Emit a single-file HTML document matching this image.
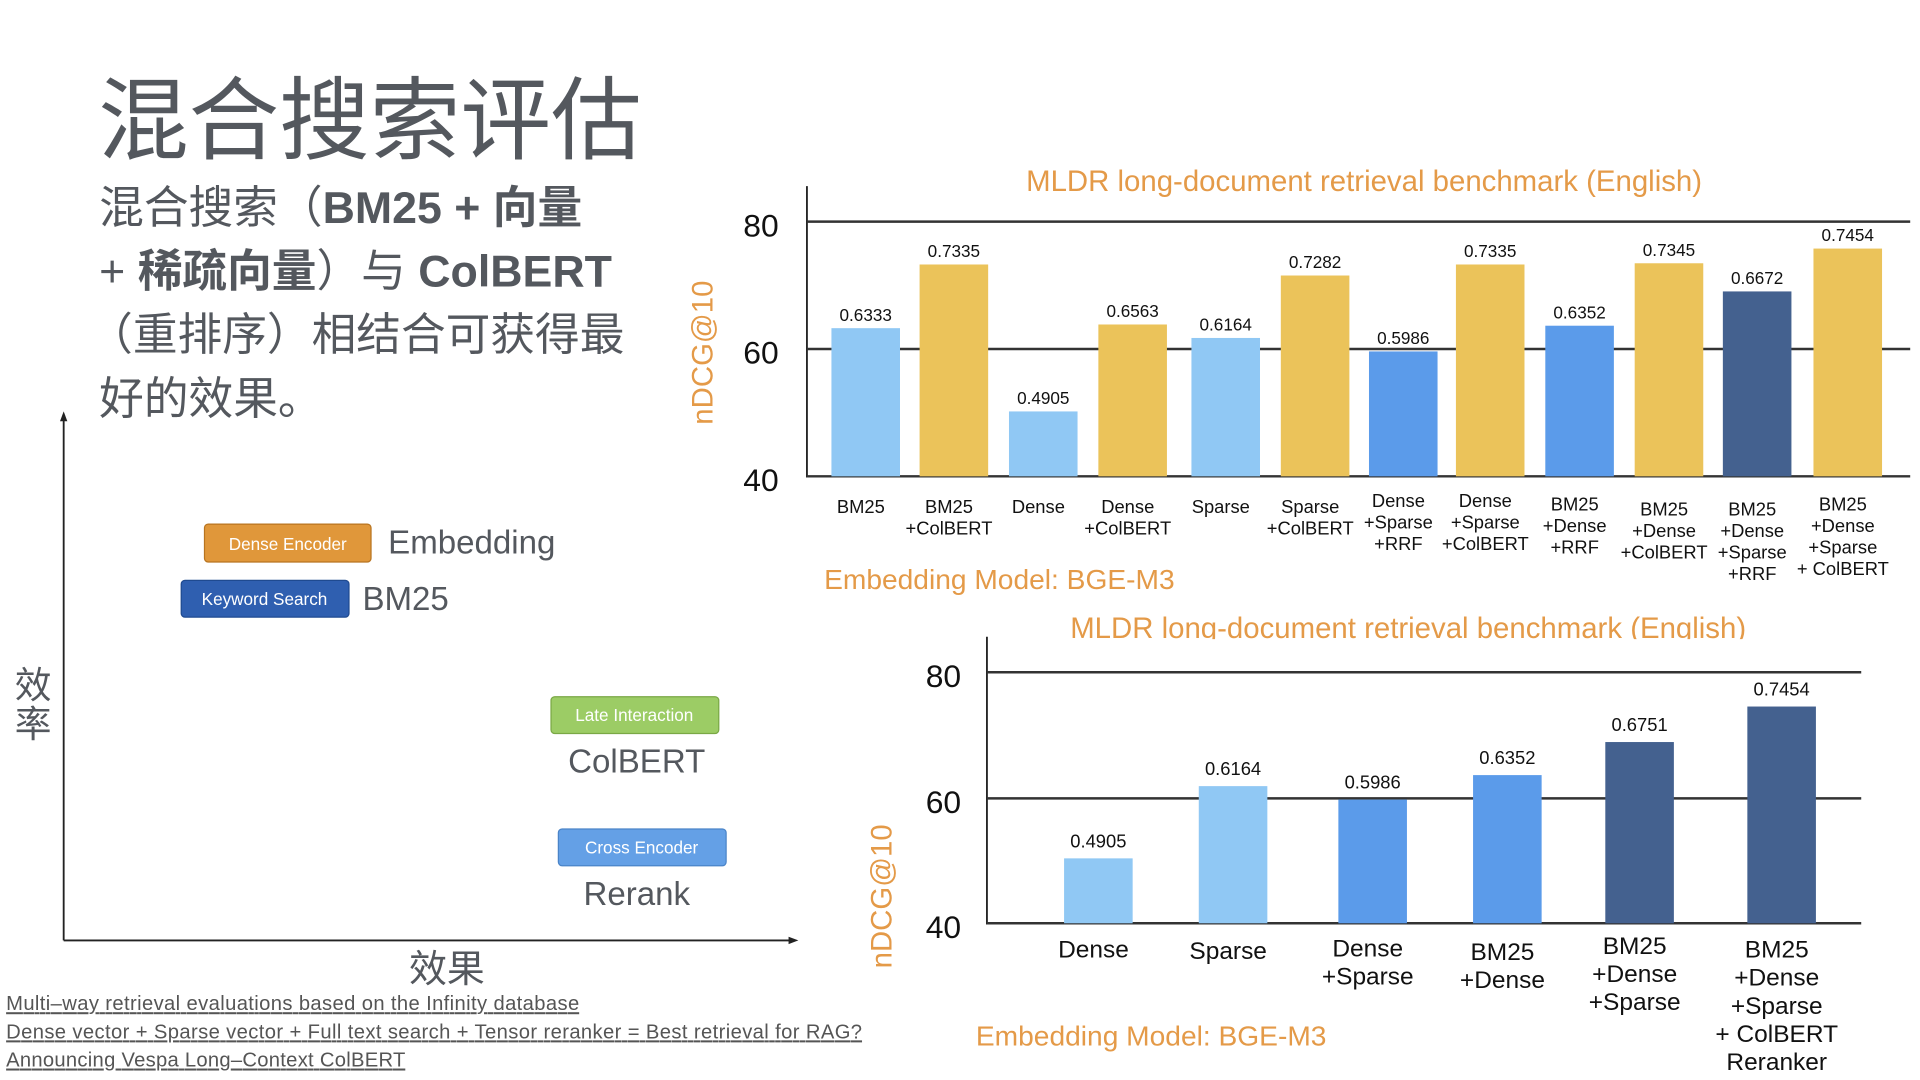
<!DOCTYPE html>
<html><head><meta charset="utf-8"><style>
html,body{margin:0;padding:0;background:#fff;width:1920px;height:1080px;overflow:hidden}
svg{display:block}
.cjk{font-family:"Liberation Sans","Noto Sans CJK SC",sans-serif}
.n{font-family:"Liberation Sans Narrow","Liberation Sans",sans-serif}
</style></head><body>
<svg width="1920" height="1080" viewBox="0 0 1568 882" preserveAspectRatio="none" xmlns="http://www.w3.org/2000/svg">
<defs><clipPath id="c2"><rect x="700" y="480" width="860" height="42"/></clipPath></defs>
<g class="cjk" fill="#54585e">
<text x="80" y="124" font-size="74">混合搜索评估</text>
<text x="81" y="182" font-size="36.5">混合搜索（<tspan font-weight="bold">BM25 + 向量</tspan></text>
<text x="81" y="234" font-size="36.5"><tspan>+ </tspan><tspan font-weight="bold">稀疏向量</tspan>）与 <tspan font-weight="bold">ColBERT</tspan></text>
<text x="72" y="286" font-size="36.5">（重排序）相结合可获得最</text>
<text x="81" y="338" font-size="36.5">好的效果。</text>
<text x="12" y="570" font-size="30">效</text>
<text x="12" y="602" font-size="30">率</text>
<text x="334" y="802" font-size="31">效果</text>
<text x="317" y="452" font-size="27">Embedding</text>
<text x="296" y="498" font-size="27">BM25</text>
<text x="520" y="631" font-size="27" text-anchor="middle">ColBERT</text>
<text x="520" y="739" font-size="27" text-anchor="middle">Rerank</text>
</g>
<g stroke="#222" stroke-width="1.5" fill="#222">
<line x1="52" y1="768" x2="52" y2="342"/><polygon points="52,336 49,344 55,344" stroke="none"/>
<line x1="52" y1="768" x2="646" y2="768"/><polygon points="652,768 644,765 644,771" stroke="none"/>
</g>
<g class="cjk" font-size="14" fill="#fff" text-anchor="middle">
<rect x="167" y="428" width="136" height="31" rx="3" fill="#e0973a" stroke="#b87420"/><text x="235" y="449">Dense Encoder</text>
<rect x="148" y="474" width="137" height="30" rx="3" fill="#2f5fb0" stroke="#1f4a90"/><text x="216" y="494">Keyword Search</text>
<rect x="450" y="569" width="137" height="30" rx="3" fill="#9ccc65" stroke="#7aa845"/><text x="518" y="589">Late Interaction</text>
<rect x="456" y="677" width="137" height="30" rx="3" fill="#64a0e6" stroke="#4a84c8"/><text x="524" y="697">Cross Encoder</text>
</g>
<g class="cjk" font-size="16.5" fill="#555" text-decoration="underline">
<text x="5" y="825" textLength="468">Multi–way retrieval evaluations based on the Infinity database</text>
<text x="5" y="848" textLength="699">Dense vector + Sparse vector + Full text search + Tensor reranker = Best retrieval for RAG?</text>
<text x="5" y="871" textLength="326">Announcing Vespa Long–Context ColBERT</text>
</g>

<!-- chart 1 -->
<g class="n">
<text x="1114" y="156" font-size="24" fill="#e49a48" text-anchor="middle">MLDR long-document retrieval benchmark (English)</text>
<line x1="659" y1="152" x2="659" y2="390" stroke="#222" stroke-width="1.5"/>
<g stroke="#333" stroke-width="2"><line x1="659" y1="181" x2="1560" y2="181"/><line x1="659" y1="285" x2="1560" y2="285"/><line x1="659" y1="389" x2="1560" y2="389"/></g>
<g font-size="26" fill="#111"><text x="607" y="193">80</text><text x="607" y="297">60</text><text x="607" y="401">40</text></g>
<text transform="translate(582,288) rotate(-90)" font-size="24" fill="#e49a48" text-anchor="middle">nDCG@10</text>
<g id="bars1"></g>
<text x="673" y="481" font-size="23" fill="#e49a48">Embedding Model: BGE-M3</text>
</g>

<!-- chart 2 -->
<g class="n">
<text x="1150" y="521" font-size="24" fill="#e49a48" text-anchor="middle" clip-path="url(#c2)">MLDR long-document retrieval benchmark (English)</text>
<line x1="806" y1="520" x2="806" y2="755" stroke="#222" stroke-width="1.5"/>
<g stroke="#333" stroke-width="2"><line x1="806" y1="549" x2="1520" y2="549"/><line x1="806" y1="652" x2="1520" y2="652"/><line x1="806" y1="754" x2="1520" y2="754"/></g>
<g font-size="26" fill="#111"><text x="756" y="561">80</text><text x="756" y="664">60</text><text x="756" y="766">40</text></g>
<text transform="translate(728,732) rotate(-90)" font-size="24" fill="#e49a48" text-anchor="middle">nDCG@10</text>
<g id="bars2"></g>
<text x="797" y="854" font-size="23" fill="#e49a48">Embedding Model: BGE-M3</text>
</g>
</svg>
<script>
var NS="http://www.w3.org/2000/svg";
function el(p,t,a,txt){var e=document.createElementNS(NS,t);for(var k in a)e.setAttribute(k,a[k]);if(txt!=null)e.textContent=txt;p.appendChild(e);return e;}
var LB="#90c8f4",Y="#ebc35a",MB="#5b9bea",D="#44618f";
var b1=[[679,.6333,LB,["BM25"],414,268],[751,.7335,Y,["BM25","+ColBERT"],414,216],[824,.4905,LB,["Dense"],414,336],[897,.6563,Y,["Dense","+ColBERT"],414,265],[973,.6164,LB,["Sparse"],414,276],[1046,.7282,Y,["Sparse","+ColBERT"],414,225],[1118,.5986,MB,["Dense","+Sparse","+RRF"],409,287],[1189,.7335,Y,["Dense","+Sparse","+ColBERT"],409,216],[1262,.6352,MB,["BM25","+Dense","+RRF"],412,266],[1335,.7345,Y,["BM25","+Dense","+ColBERT"],416,215],[1407,.6672,D,["BM25","+Dense","+Sparse","+RRF"],416,238],[1481,.7454,Y,["BM25","+Dense","+Sparse","+ ColBERT"],412,203]];
var g=document.getElementById("bars1");
b1.forEach(function(b){var top=b[5];el(g,"rect",{x:b[0],y:top,width:56,height:389-top,fill:b[2]});
el(g,"text",{x:b[0]+28,y:top-6,"font-size":14,fill:"#111","text-anchor":"middle"},b[1].toFixed(4));
b[3].forEach(function(s,i){el(g,"text",{x:b[0]+24,y:b[4]+5+i*17.5,"font-size":15,fill:"#111","text-anchor":"middle"},s);});});
var b2=[[869,.4905,LB,["Dense"],775,701],[979,.6164,LB,["Sparse"],776,642],[1093,.5986,MB,["Dense","+Sparse"],774,653],[1203,.6352,MB,["BM25","+Dense"],777,633],[1311,.6751,D,["BM25","+Dense","+Sparse"],772,606],[1427,.7454,D,["BM25","+Dense","+Sparse","+ ColBERT","Reranker"],775,577]];
g=document.getElementById("bars2");
b2.forEach(function(b){var top=b[5];el(g,"rect",{x:b[0],y:top,width:56,height:754-top,fill:b[2]});
el(g,"text",{x:b[0]+28,y:top-9,"font-size":15,fill:"#111","text-anchor":"middle"},b[1].toFixed(4));
b[3].forEach(function(s,i){el(g,"text",{x:b[0]+24,y:b[4]+7+i*23,"font-size":20,fill:"#111","text-anchor":"middle"},s);});});
</script>
</body></html>
